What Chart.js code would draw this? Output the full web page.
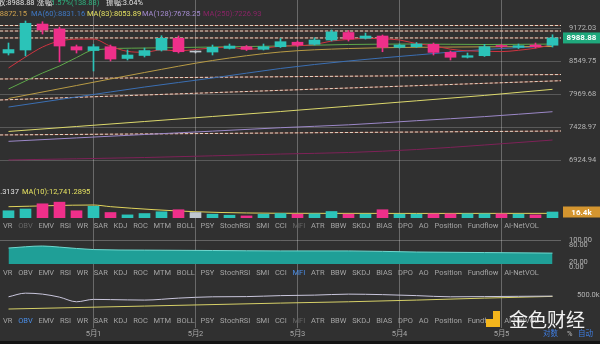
<!DOCTYPE html>
<html lang="zh-CN">
<head>
<meta charset="UTF-8">
<meta name="viewport" content="width=device-width, initial-scale=1.0">
<title>BTC 4小时</title>
<script src="https://cdn.jsdelivr.net/npm/chart.js"></script>
<style>
  html, body { margin: 0; padding: 0; }
  body { width: 600px; height: 344px; background: #303030; position: relative; overflow: hidden;
         font-family: Roboto, "Noto Sans CJK SC", sans-serif; }
  #chart { position: absolute; left: 0; top: 0; }
  .txt { position: absolute; font-size: 7.5px; line-height: 10px; white-space: nowrap; color: #e2e2e2; }
  .tabs { position: absolute; left: 3px; width: 536px; display: flex; justify-content: space-between;
          font-size: 7.5px; line-height: 10px; color: #a4a4a4; }
  .dim { color: #666; }
  .on { color: #4a8de6; }
  #foot { position: absolute; left: 0; top: 341px; width: 600px; height: 3px; background: #141414; }
  #logo { position: absolute; left: 486px; top: 311px; width: 14px; height: 16px; background: #f3b51c; }
  #logo:before { content: ''; position: absolute; left: 0; top: 0; width: 7px; height: 8px; background: #303030; }
  #brand { position: absolute; left: 509px; top: 308px; font-family: "Noto Sans CJK SC"; font-size: 19px;
           line-height: 22px; color: #f2f2f2; }
</style>
</head>
<body>
<canvas id="chart" width="600" height="344"></canvas>

<!-- header lines -->
<div class="txt" style="left:-2px;top:-2px">收:8988.88</div>
<div class="txt" style="left:37px;top:-2px">涨幅:</div>
<div class="txt" style="left:51px;top:-2px;color:#2db37f">1.57%(138.88)</div>
<div class="txt" style="left:106px;top:-2px">振幅:3.04%</div>
<div class="txt" style="right:573px;top:9px;color:#cfa24e">MA(30):8872.15</div>
<div class="txt" style="left:31px;top:9px;color:#3f79c6">MA(60):8831.16</div>
<div class="txt" style="left:87px;top:9px;color:#e4e060">MA(83):8053.89</div>
<div class="txt" style="left:142px;top:9px;color:#a58bd0">MA(128):7678.25</div>
<div class="txt" style="left:203px;top:9px;color:#8a2466">MA(250):7226.93</div>

<div class="txt" style="right:581px;top:187px">VOL:16,413.3137</div>
<div class="txt" style="left:22px;top:187px;color:#e4e060">MA(10):12,741.2895</div>

<div class="tabs" id="tabs1" style="top:221px"></div>
<div class="tabs" id="tabs2" style="top:268px"></div>
<div class="tabs" id="tabs3" style="top:316px"></div>

<div class="txt" style="left:543px;top:329px;color:#3f7de0">对数</div>
<div class="txt" style="left:567px;top:329px;color:#bbb">%</div>
<div class="txt" style="left:578px;top:329px;color:#3f7de0">自动</div>

<div id="logo"></div>
<div id="brand">金色财经</div>
<div id="foot"></div>

<script>
// 4h candles, 4月30 04:00 -> 5月5 12:00
const times = ['04:00', '08:00', '12:00', '16:00', '20:00',
  '5月1', '04:00', '08:00', '12:00', '16:00', '20:00',
  '5月2', '04:00', '08:00', '12:00', '16:00', '20:00',
  '5月3', '04:00', '08:00', '12:00', '16:00', '20:00',
  '5月4', '04:00', '08:00', '12:00', '16:00', '20:00',
  '5月5', '04:00', '08:00', '12:00'];

const opens  = [8704, 8760, 9260, 9162, 8822, 8750, 8822, 8603, 8658, 8760, 8982, 8722, 8722, 8790, 8822, 8773, 8822,
                8907, 8867, 8949, 9094, 8982, 9026, 8811, 8822, 8867, 8716, 8625, 8654, 8835, 8811, 8854, 8850];
const highs  = [8892, 9320, 9306, 9200, 8854, 8864, 8854, 8760, 8797, 9032, 9026, 8740, 8854, 8873, 8845, 8873, 8980,
                8930, 8993, 9143, 9133, 9084, 9045, 8873, 8902, 8892, 8741, 8704, 8867, 8864, 8873, 8892, 9050];
const lows   = [8667, 8650, 9065, 8539, 8704, 8376, 8557, 8575, 8630, 8741, 8704, 8704, 8667, 8779, 8750, 8760, 8807,
                8826, 8854, 8930, 8930, 8968, 8728, 8797, 8807, 8667, 8575, 8612, 8640, 8797, 8788, 8797, 8816];
const closes = [8769, 9275, 9143, 8835, 8760, 8822, 8593, 8667, 8750, 8982, 8728, 8722, 8811, 8835, 8773, 8822, 8917,
                8854, 8949, 9106, 8968, 9026, 8811, 8854, 8873, 8716, 8625, 8654, 8822, 8826, 8841, 8822, 8988.88];

// volume in thousands
const volumes = [19.8, 24.6, 38.8, 43.3, 19.8, 32, 15, 8.5, 12.2, 17, 22.6, 15, 10.5, 7.6, 5.7, 10.5, 12.2,
                 10.5, 11.3, 17.8, 10.5, 10.5, 22.6, 10.5, 10.5, 11.3, 11.3, 11.3, 11.3, 11.3, 10.5, 8.5, 16.4];
const volMaIdx = [0, 5, 6, 11, 17, 24, 32];
const volMa    = [30.9, 35.5, 31, 17.2, 12.8, 12.5, 12.7];

// moving averages on the price pane
const maFast = [8430, 8630, 8816, 8930, 8965, 8967, 8831, 8735, 8718, 8763, 8744, 8770, 8799, 8816, 8774, 8793, 8832,
                8840, 8863, 8930, 8959, 8981, 8972, 8950, 8880, 8840, 8776, 8744, 8738, 8730, 8755, 8795, 8862];
const greenIdx = [0, 1, 2, 3, 4, 5, 8, 12, 16, 20, 24, 28, 32];
const maGreen  = [8060, 8200, 8340, 8466, 8620, 8760, 8797, 8816, 8835, 8864, 8873, 8864, 8872];
const keyIdx = [0, 4, 8, 12, 16, 20, 24, 28, 32];
const ma30  = [7898, 8120, 8349, 8566, 8723, 8788, 8811, 8820, 8826];
const ma60  = [7755, 7923, 8094, 8251, 8421, 8557, 8667, 8770, 8835];
const ma83  = [7361, 7439, 7519, 7600, 7681, 7769, 7859, 7950, 8054];
const ma128 = [7207, 7260, 7313, 7366, 7420, 7466, 7532, 7598, 7678];
const ma250Idx = [0, 8, 16, 20, 24, 28, 32];
const ma250 = [6926, 6962, 7014, 7037, 7082, 7151, 7227];

// drawn levels: flat ones and sloped ones (start / end)
const flatLevels = [9231, 9123, 8988.88];
const trendStart = [8234, 7873, 7306];
const trendEnd   = [8313, 8204, 7368];

const priceTicks = [6924.94, 7428.97, 7969.68, 8549.75, 9172.03];

// MFI
const mfiIdx = [0, 2, 3, 5, 8, 12, 16, 20, 24, 28, 32];
const mfi    = [70.7, 78, 74, 65, 63, 61.5, 60, 60, 56, 54, 52];
const mfiTicks = [0, 20, 80, 100];

// OBV (thousands)
const obvIdx = [0, 1, 2, 3, 4, 5, 6, 8, 10, 12, 14, 16, 18, 20, 22, 24, 26, 28, 30, 32];
const obv    = [468, 557, 533, 460, 347, 405, 400, 388, 436, 468, 473, 497, 509, 533, 521, 497, 468, 473, 480, 485];
const obvMaIdx = [0, 8, 16, 20, 24, 28, 32];
const obvMa    = [170, 242, 315, 347, 388, 436, 478];

const tabNames = ['VR', 'OBV', 'EMV', 'RSI', 'WR', 'SAR', 'KDJ', 'ROC', 'MTM', 'BOLL', 'PSY', 'StochRSI', 'SMI', 'CCI',
                  'MFI', 'ATR', 'BBW', 'SKDJ', 'BIAS', 'DPO', 'AO', 'Position', 'Fundflow', 'AI-NetVOL'];

const UP = '#2bc3b8', DOWN = '#ef2f8a', FLAT = '#c0c8d0';

function sparse(idx, vals) {
    const a = new Array(times.length).fill(null);
    idx.forEach((k, j) => { a[k] = vals[j]; });
    return a;
}

function fillTabs(id, cls) {
    const row = document.getElementById(id);
    tabNames.forEach(n => {
        const s = document.createElement('span');
        s.textContent = n;
        if (cls[n]) s.className = cls[n];
        row.appendChild(s);
    });
}
fillTabs('tabs1', { OBV: 'dim', MFI: 'dim' });
fillTabs('tabs2', { MFI: 'on' });
fillTabs('tabs3', { OBV: 'on', MFI: 'dim' });

const candleColors = opens.map((o, i) => closes[i] > o ? UP : (closes[i] < o ? DOWN : FLAT));

function maLine(data, color, width) {
    return {
        type: 'line', data: data, yAxisID: 'y', borderColor: color, borderWidth: width || 1,
        pointRadius: 0, spanGaps: true, cubicInterpolationMode: 'monotone'
    };
}
// drawn levels: white dashes over a faint red-orange line
function levelLines(a, b) {
    const pts = [{ x: 0, y: a }, { x: 33, y: b }];
    return [
        { type: 'line', xAxisID: 'xl', yAxisID: 'y', data: pts, borderColor: 'rgba(240,226,210,0.9)',
          borderWidth: 1, borderDash: [3, 2], pointRadius: 0 },
        { type: 'line', xAxisID: 'xl', yAxisID: 'y', data: pts, borderColor: 'rgba(205,95,70,0.55)',
          borderWidth: 1, pointRadius: 0 }
    ];
}

const tagPlugin = {
    id: 'tags',
    afterDraw(chart) {
        const ctx = chart.ctx;
        const right = chart.chartArea.right;
        function tag(axis, value, text, color) {
            const y = chart.scales[axis].getPixelForValue(value);
            ctx.save();
            ctx.fillStyle = color;
            ctx.fillRect(right + 2, y - 5.5, 600 - right - 2, 11);
            ctx.fillStyle = '#fff';
            ctx.font = 'bold 8px Roboto';
            ctx.textAlign = 'center';
            ctx.textBaseline = 'middle';
            ctx.fillText(text, (right + 602) / 2, y + 0.5);
            ctx.restore();
        }
        tag('y', closes[closes.length - 1], closes[closes.length - 1].toFixed(2), '#1fa87c');
        tag('yVol', volumes[volumes.length - 1], volumes[volumes.length - 1] + 'k', '#d4952f');
    }
};

// every right-hand axis: fixed width, no extra label padding above/below
function fitRight(s) {
    s.width = 39;
    s.paddingTop = 0;
    s.paddingBottom = 0;
}

const gap = w => ({
    type: 'linear', position: 'right', stack: 'panes', stackWeight: w, min: 0, max: 1,
    ticks: { display: false }, grid: { display: false }, border: { display: false },
    afterFit: fitRight
});

const tickFont = { size: 7.5, family: 'Roboto' };

new Chart(document.getElementById('chart'), {
    type: 'bar',
    data: {
        labels: times,
        datasets: [
            { data: opens.map((o, i) => [o, closes[i]]), yAxisID: 'y', backgroundColor: candleColors,
              barThickness: 11, minBarLength: 1, grouped: false },
            { data: lows.map((l, i) => [l, highs[i]]), yAxisID: 'y', backgroundColor: candleColors,
              barThickness: 1, grouped: false },
            maLine(maFast, '#cf3440'),
            maLine(sparse(greenIdx, maGreen), '#5ea84a'),
            maLine(sparse(keyIdx, ma30), '#b89b45'),
            maLine(sparse(keyIdx, ma60), '#3b6fb3'),
            maLine(sparse(keyIdx, ma83), '#dcd86c'),
            maLine(sparse(keyIdx, ma128), '#9c88c8'),
            maLine(sparse(ma250Idx, ma250), '#7e2258'),
            ...flatLevels.flatMap(v => levelLines(v, v)),
            ...trendStart.flatMap((v, i) => levelLines(v, trendEnd[i])),
            { data: volumes, yAxisID: 'yVol', backgroundColor: candleColors, barThickness: 11, grouped: false },
            { type: 'line', data: sparse(volMaIdx, volMa), yAxisID: 'yVol', borderColor: '#e0d45c',
              borderWidth: 1, pointRadius: 0, spanGaps: true, cubicInterpolationMode: 'monotone' },
            { type: 'line', data: sparse(mfiIdx, mfi), yAxisID: 'yMfi', borderColor: '#6fd8cf',
              backgroundColor: '#1f9f97', fill: { value: 12 }, borderWidth: 1, pointRadius: 0,
              spanGaps: true, cubicInterpolationMode: 'monotone' },
            { type: 'line', data: sparse(obvIdx, obv), yAxisID: 'yObv', borderColor: '#c9c6dc',
              borderWidth: 1, pointRadius: 0, spanGaps: true, cubicInterpolationMode: 'monotone' },
            { type: 'line', data: sparse(obvMaIdx, obvMa), yAxisID: 'yObv', borderColor: '#d6d068',
              borderWidth: 1, pointRadius: 0, spanGaps: true, cubicInterpolationMode: 'monotone' }
        ]
    },
    options: {
        responsive: false,
        animation: false,
        layout: { padding: 0 },
        plugins: { legend: { display: false }, tooltip: { enabled: false } },
        scales: {
            x: {
                offset: true,
                grid: {
                    offset: false, drawTicks: false,
                    color: c => (times[c.index] || '').includes('月') ? 'rgba(255,255,255,0.28)' : 'transparent'
                },
                border: { display: false },
                ticks: {
                    autoSkip: false, maxRotation: 0, padding: 2, color: '#a8a8a8', font: tickFont,
                    callback: (v, i) => times[i].includes('月') ? times[i] : ''
                },
                afterFit: s => { s.height = 16; s.paddingLeft = 0; s.paddingRight = 0; }
            },
            xl: { type: 'linear', display: false, offset: false, min: 0, max: 33 },
            y: {
                type: 'logarithmic', position: 'right', stack: 'panes', stackWeight: 176,
                min: 6692.5, max: 9748,
                afterBuildTicks: s => { s.ticks = priceTicks.map(v => ({ value: v })); },
                afterFit: fitRight,
                ticks: { autoSkip: false, color: '#b4b4b4', font: tickFont, padding: 8, callback: v => Number(v).toFixed(2) },
                grid: { color: 'rgba(255,255,255,0.2)', drawTicks: false },
                border: { display: false }
            },
            yVol: {
                type: 'linear', position: 'right', stack: 'panes', stackWeight: 42, min: 0, max: 114.8,
                ticks: { display: false }, grid: { display: false }, border: { display: false },
                afterFit: fitRight
            },
            yGap1: gap(22),
            yMfi: {
                type: 'linear', position: 'right', stack: 'panes', stackWeight: 27.3, min: 0, max: 100,
                afterBuildTicks: s => { s.ticks = mfiTicks.map(v => ({ value: v })); },
                afterFit: fitRight,
                ticks: { autoSkip: false, color: '#b4b4b4', font: tickFont, padding: 8, callback: v => Number(v).toFixed(2) },
                grid: { drawTicks: false, color: c => c.tick && c.tick.value === 100 ? 'rgba(255,255,255,0.25)' : 'transparent' },
                border: { display: false }
            },
            yGap2: gap(14.7),
            yObv: {
                type: 'linear', position: 'right', stack: 'panes', stackWeight: 34, min: 0, max: 829,
                afterBuildTicks: s => { s.ticks = [{ value: 500 }]; },
                afterFit: fitRight,
                ticks: { autoSkip: false, color: '#b4b4b4', font: tickFont, padding: 8, callback: v => Number(v).toFixed(1) + 'k' },
                grid: { display: false },
                border: { display: false }
            },
            yGap3: gap(12)
        }
    },
    plugins: [tagPlugin]
});
</script>
</body>
</html>
